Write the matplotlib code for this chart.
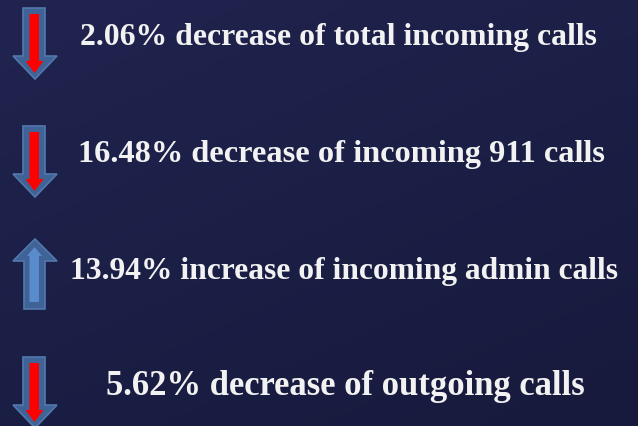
import numpy as np
import matplotlib.pyplot as plt
from matplotlib.patches import Polygon

# Data
labels = [
    "2.06% decrease of total incoming calls",
    "16.48% decrease of incoming 911 calls",
    "13.94% increase of incoming admin calls",
    "5.62% decrease of outgoing calls",
]
directions = ["down", "down", "up", "down"]

# layout (pixels)
text_x = [338, 341, 344, 345]
text_y = [37, 155, 272, 387]
text_w = [516, 526, 548, 480]
arrow_top = [9, 127, 240, 358]

W, H = 638, 427
fig = plt.figure(figsize=(W / 100, H / 100), dpi=100)
ax = fig.add_axes([0, 0, 1, 1])
ax.set_xlim(0, W)
ax.set_ylim(H, 0)
ax.axis("off")

# background gradient
c1 = np.array([0x20, 0x24, 0x4f]) / 255
c2 = np.array([0x17, 0x1a, 0x3c]) / 255
yy, xx = np.mgrid[0:1:100j, 0:1:100j]
t = (0.6 * yy + 0.4 * xx)[..., None]
ax.imshow(c1 * (1 - t) + c2 * t, extent=[0, W, H, 0], aspect="auto", zorder=0)

outer_col = "#3f6396"
edge_col = "#5278ad"


def down_arrow(y0):
    outer = [(23, y0), (45, y0), (45, y0 + 48), (57, y0 + 48), (35, y0 + 71),
             (13, y0 + 48), (23, y0 + 48)]
    ax.add_patch(Polygon(outer, closed=True, fc=outer_col, ec=edge_col, lw=1.2, zorder=2))
    inner = [(29.5, y0 + 6), (39, y0 + 6), (39, y0 + 53), (43.5, y0 + 53), (34.5, y0 + 65),
             (25.5, y0 + 53), (29.5, y0 + 53)]
    ax.add_patch(Polygon(inner, closed=True, fc="#ff0000", ec="none", zorder=3))


def up_arrow(y0):
    outer = [(35, y0), (57, y0 + 22), (45, y0 + 22), (45, y0 + 70), (24, y0 + 70),
             (24, y0 + 22), (13, y0 + 22)]
    ax.add_patch(Polygon(outer, closed=True, fc=outer_col, ec=edge_col, lw=1.2, zorder=2))
    inner = [(34.5, y0 + 8), (42, y0 + 17), (39, y0 + 17), (39, y0 + 63), (29.5, y0 + 63),
             (29.5, y0 + 17), (27, y0 + 17)]
    ax.add_patch(Polygon(inner, closed=True, fc="#5a8bcc", ec="none", zorder=3))


for d, y0 in zip(directions, arrow_top):
    if d == "down":
        down_arrow(y0)
    else:
        up_arrow(y0)

fig.canvas.draw()
r = fig.canvas.get_renderer()
for lab, x, y, w in zip(labels, text_x, text_y, text_w):
    txt = ax.text(x, y, lab, ha="center", va="center", fontsize=20,
                  fontweight="bold", family="Liberation Serif", color="#f2f2f2", zorder=4)
    ext = txt.get_window_extent(renderer=r)
    txt.set_fontsize(20 * w / ext.width)

fig.savefig("out.png", dpi=100)
